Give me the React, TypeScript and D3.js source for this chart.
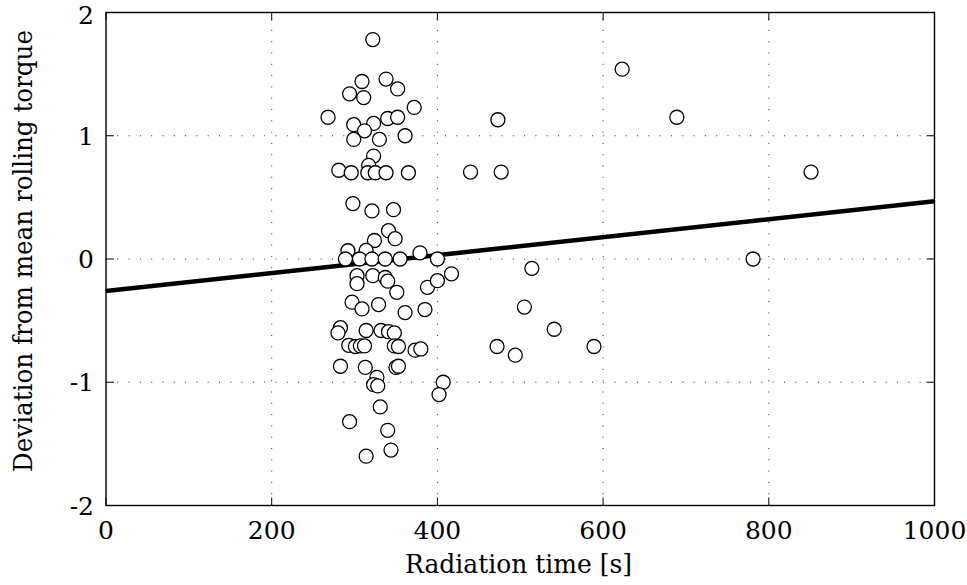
import React from "react";
import * as d3 from "d3";

// Radiation time [s]
const radiationTime: number[] = [
  322, 309, 338, 294, 311, 352, 372, 268, 299, 323, 340, 352, 312, 299, 330, 361,
  323, 317, 281, 296, 316, 325, 338, 365, 298, 321, 347, 341, 349, 324, 292, 314,
  379, 289, 306, 321, 337, 355, 400, 303, 322, 337, 303, 340, 351, 388, 400, 417,
  514, 297, 329, 309, 361, 385, 505, 541, 283, 280, 314, 332, 341, 348, 293, 301,
  307, 312, 348, 353, 373, 380, 472, 494, 589, 283, 313, 350, 353, 327, 323, 328,
  331, 294, 340, 344, 314, 407, 402, 473, 689, 623, 440, 477, 851, 781,
];

// Deviation from mean rolling torque
const torqueDeviation: number[] = [
  1.78, 1.44, 1.46, 1.34, 1.31, 1.38, 1.23, 1.15, 1.09, 1.1, 1.14, 1.15, 1.04, 0.97, 0.97, 1.0,
  0.835, 0.76, 0.72, 0.7, 0.7, 0.7, 0.7, 0.7, 0.45, 0.39, 0.4, 0.23, 0.165, 0.15, 0.067, 0.07,
  0.05, 0, 0, 0, 0, 0, 0, -0.135, -0.135, -0.15, -0.2, -0.18, -0.27, -0.23, -0.176, -0.12,
  -0.076, -0.35, -0.37, -0.405, -0.435, -0.41, -0.39, -0.57, -0.557, -0.6, -0.58, -0.58, -0.59, -0.6, -0.7, -0.71,
  -0.705, -0.705, -0.705, -0.71, -0.74, -0.73, -0.71, -0.78, -0.71, -0.87, -0.88, -0.88, -0.87, -0.96, -1.02, -1.03,
  -1.2, -1.32, -1.39, -1.55, -1.6, -1.0, -1.1, 1.13, 1.15, 1.54, 0.705, 0.705, 0.705, 0,
];

// Linear fit endpoints
const fitX: number[] = [0, 1000];
const fitY: number[] = [-0.26, 0.468];

const xTicks: number[] = [0, 200, 400, 600, 800, 1000];
const yTicks: number[] = [-2, -1, 0, 1, 2];
const xGrid: number[] = [200, 400, 600, 800];
const yGrid: number[] = [-1, 0, 1];

const xLabel = "Radiation time [s]";
const yLabel = "Deviation from mean rolling torque";

const W = 967;
const H = 585;
const M = { left: 106, right: 934.5, top: 12.5, bottom: 505.5 };
const FONT = '"DejaVu Serif", serif';
const textStyle: React.CSSProperties = { fontFamily: FONT };

export default function App() {
  const x = d3.scaleLinear().domain([0, 1000]).range([M.left, M.right]);
  const y = d3.scaleLinear().domain([-2, 2]).range([M.bottom, M.top]);

  const line = d3
    .line<number>()
    .x((_, i) => x(fitX[i]))
    .y((d) => y(d));

  const points = radiationTime.map((t, i) => ({ t, v: torqueDeviation[i] }));
  const tickLen = 8;

  return (
    <svg
      width={W}
      height={H}
      style={{ position: "absolute", left: 0, top: 0, background: "#fff" }}
    >
      <rect x={0} y={0} width={W} height={H} fill="#fff" />
      {/* grid */}
      <g stroke="#333" strokeWidth={1} strokeDasharray="1,10.3">
        {xGrid.map((g) => (
          <line key={"gx" + g} x1={x(g)} x2={x(g)} y1={M.bottom} y2={M.top} />
        ))}
        {yGrid.map((g) => (
          <line key={"gy" + g} x1={M.left} x2={M.right} y1={y(g)} y2={y(g)} />
        ))}
      </g>
      {/* ticks */}
      <g stroke="#000" strokeWidth={1}>
        {xTicks.map((t) => (
          <g key={"xt" + t}>
            <line x1={x(t)} x2={x(t)} y1={M.bottom} y2={M.bottom - tickLen} />
            <line x1={x(t)} x2={x(t)} y1={M.top} y2={M.top + tickLen} />
          </g>
        ))}
        {yTicks.map((t) => (
          <g key={"yt" + t}>
            <line x1={M.left} x2={M.left + tickLen} y1={y(t)} y2={y(t)} />
            <line x1={M.right} x2={M.right - tickLen} y1={y(t)} y2={y(t)} />
          </g>
        ))}
      </g>
      {/* fit line */}
      <path d={line(fitY) || ""} fill="none" stroke="#000" strokeWidth={4.5} />
      {/* points */}
      <g fill="#fff" stroke="#000" strokeWidth={1.3}>
        {points.map((p, i) => (
          <circle key={i} cx={x(p.t)} cy={y(p.v)} r={7} />
        ))}
      </g>
      {/* axes box */}
      <rect
        x={M.left}
        y={M.top}
        width={M.right - M.left}
        height={M.bottom - M.top}
        fill="none"
        stroke="#000"
        strokeWidth={1.4}
      />
      {/* tick labels */}
      <g fontSize={25} fill="#000">
        {xTicks.map((t) => (
          <text key={"xl" + t} style={textStyle} x={x(t)} y={539} textAnchor="middle">
            {String(t)}
          </text>
        ))}
        {yTicks.map((t) => (
          <text
            key={"yl" + t}
            style={textStyle}
            x={94}
            y={Math.max(y(t) + 9, 24)}
            textAnchor="end"
          >
            {String(t)}
          </text>
        ))}
      </g>
      {/* axis labels */}
      <text
        style={textStyle}
        x={518.5}
        y={573}
        fontSize={26}
        textAnchor="middle"
        textLength={227}
        lengthAdjust="spacingAndGlyphs"
      >
        {xLabel}
      </text>
      <text
        style={textStyle}
        transform={`translate(32, 251) rotate(-90)`}
        fontSize={26}
        textAnchor="middle"
        textLength={442}
        lengthAdjust="spacingAndGlyphs"
      >
        {yLabel}
      </text>
    </svg>
  );
}
